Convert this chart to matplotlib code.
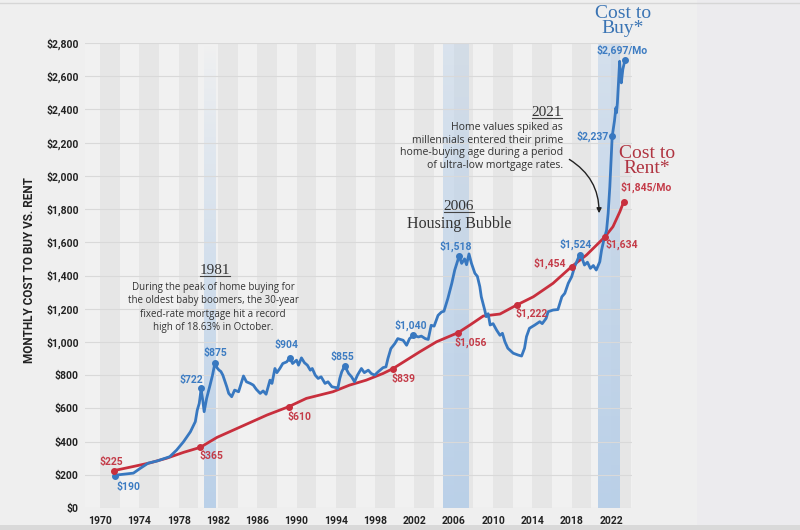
import matplotlib
matplotlib.use("Agg")
import matplotlib.pyplot as plt
import numpy as np
from matplotlib.patches import FancyArrowPatch, Rectangle
from matplotlib.lines import Line2D

# ---------------- data ----------------
buy_years = [1971.5, 1971.9, 1973.4, 1974.1, 1974.9, 1975.8, 1976.3, 1977.1, 1977.8, 1978.5,
             1979.2, 1979.7, 1979.9, 1980.1, 1980.3, 1980.45, 1980.6, 1980.85, 1981.2, 1981.45,
             1981.7, 1981.9, 1982.1, 1982.3, 1982.5, 1982.9, 1983.1, 1983.4, 1983.7, 1984.1,
             1984.6, 1984.9, 1985.3, 1985.6, 1985.9, 1986.3, 1986.6, 1986.9, 1987.3, 1987.5,
             1987.8, 1988.0, 1988.3, 1988.6, 1989.0, 1989.3, 1989.6, 1990.0, 1990.2, 1990.5,
             1990.8, 1991.1, 1991.4, 1991.6, 1991.9, 1992.2, 1992.5, 1992.9, 1993.2, 1993.6,
             1994.0, 1994.2, 1994.4, 1994.6, 1994.9, 1995.3, 1995.6, 1995.9, 1996.2, 1996.6,
             1996.9, 1997.3, 1997.6, 1997.95, 1998.3, 1998.8, 1999.1, 1999.3, 1999.6, 2000.0,
             2000.3, 2000.85, 2001.2, 2001.5, 2001.9, 2002.4, 2002.7, 2003.1, 2003.4, 2003.7,
             2004.0, 2004.4, 2004.75, 2005.0, 2005.4, 2005.8, 2006.1, 2006.55, 2006.8, 2007.1,
             2007.3, 2007.55, 2007.8, 2008.15, 2008.4, 2008.65, 2008.8, 2009.15, 2009.3, 2009.5,
             2009.7, 2010.0, 2010.35, 2010.7, 2010.95, 2011.2, 2011.5, 2012.05, 2012.55, 2012.9,
             2013.2, 2013.4, 2013.7, 2014.25, 2014.75, 2015.0, 2015.4, 2015.6, 2016.1, 2016.6,
             2017.0, 2017.3, 2017.65, 2018.0, 2018.3, 2018.8, 2019.0, 2019.3, 2019.6, 2019.9,
             2020.2, 2020.5, 2020.86, 2021.04, 2021.27, 2021.55, 2021.71, 2021.88, 2022.12, 2022.35,
             2022.5, 2022.56, 2022.65, 2022.8, 2022.88, 2022.95, 2023.05, 2023.2, 2023.41]
buy_values = [190, 200, 210, 239, 270, 283, 293, 309, 349, 399,
              459, 520, 590, 630, 722, 650, 580, 660, 740, 800,
              875, 845, 831, 822, 800, 730, 690, 670, 710, 700,
              795, 760, 750, 740, 715, 690, 705, 685, 770, 750,
              840, 815, 840, 870, 880, 904, 870, 890, 860, 904,
              875, 860, 830, 840, 800, 780, 790, 750, 760, 730,
              725, 720, 780, 820, 855, 810, 790, 760, 800, 840,
              815, 830, 810, 800, 820, 845, 850, 900, 960, 990,
              1020, 1010, 980, 1020, 1040, 1030, 1035, 1020, 1015, 1100,
              1095, 1160, 1180, 1185, 1262, 1353, 1433, 1518, 1473, 1500,
              1465, 1530, 1473, 1413, 1395, 1333, 1272, 1192, 1152, 1170,
              1102, 1110, 1072, 1040, 1052, 1002, 962, 932, 921, 915,
              962, 1032, 1082, 1102, 1122, 1110, 1142, 1182, 1192, 1195,
              1272, 1293, 1353, 1393, 1453, 1524, 1513, 1463, 1480, 1443,
              1460, 1433, 1483, 1553, 1613, 1673, 1774, 1935, 2237, 2330,
              2410, 2380, 2440, 2600, 2690, 2620, 2560, 2640, 2697]

rent_years = [1971.4, 1973.4, 1975.1, 1976.8, 1978.5, 1980.2, 1981.9, 1983.6, 1985.3, 1987.0,
              1989.2, 1991.0, 1993.7, 1995.4, 1997.1, 1998.8, 1999.8, 2002.55, 2004.25, 2006.45,
              2007.65, 2009.0, 2010.7, 2012.4, 2014.1, 2016.1, 2018.0, 2019.5, 2021.4, 2022.2,
              2022.9, 2023.3]
rent_values = [225, 250, 272, 300, 335, 365, 425, 470, 515, 560,
               610, 660, 700, 740, 770, 810, 839, 941, 1001, 1056,
               1102, 1156, 1168, 1222, 1272, 1353, 1454, 1523, 1634, 1694,
               1784, 1845]

buy_marked_years = [1971.5, 1980.3, 1981.7, 1989.3, 1994.9, 2001.9, 2006.55, 2018.8, 2022.12, 2023.41]
rent_marked_years = [1971.4, 1980.2, 1989.2, 1999.8, 2006.45, 2012.4, 2018.0, 2021.4, 2023.3]

x_ticks = list(range(1970, 2023, 4))
y_ticks = list(range(0, 2801, 200))
y_tick_labels = [f"${v:,}" for v in y_ticks]
highlight_ranges = [(1980.6, 1981.8), (2004.9, 2007.5), (2020.7, 2022.9)]

y_axis_title = "MONTHLY COST TO BUY VS. RENT"
note_1981_title = "1981"
note_1981_body = ("During the peak of home buying for\nthe oldest baby boomers, the 30-year\n"
                  "fixed-rate mortgage hit a record\nhigh of 18.63% in October.")
note_2006_title = "2006"
note_2006_body = "Housing Bubble"
note_2021_title = "2021"
note_2021_body = ("Home values spiked as\nmillennials entered their prime\n"
                  "home-buying age during a period\nof ultra-low mortgage rates.")
buy_title = "Cost to\nBuy*"
rent_title = "Cost to\nRent*"

# ---------------- styles / layout ----------------
W, H = 800, 530
BLUE = "#3878c0"
BLUE_TXT = "#3d7cc2"
RED = "#c82f3d"
RED_TXT = "#c43c49"
SANS = ["Roboto", "DejaVu Sans"]
BODY = ["Open Sans", "DejaVu Sans"]
SERIF = ["Liberation Serif", "DejaVu Serif"]
band_top_alpha = [0.0, 0.35, 0.45]

# pixel offsets of value labels (dx, dy; y up)
buy_offsets = [(14, -10), (-10, 8), (0, 10), (-3, 13), (-2, 9), (-3, 10), (-3, 10), (-4, 11), (-20, 0), (-3, 10)]
rent_offsets = [(-2, 9), (11, -9), (11, -10), (11, -10), (13, -10), (15, -8), (-22, 3), (17, -8), (22, 14)]

plt.rcParams["font.family"] = SANS
fig = plt.figure(figsize=(W / 100, H / 100), dpi=100, facecolor="#efefef")
fig.patches.append(Rectangle((697 / W, 0), 1 - 697 / W, 1, transform=fig.transFigure,
                             facecolor="#ecebee", edgecolor="none", zorder=-5))
fig.patches.append(Rectangle((0, 0), 1, 5 / H, transform=fig.transFigure,
                             facecolor="#d9d9d9", edgecolor="none", zorder=-4))
fig.lines.append(Line2D([0, 1], [1 - 3 / H, 1 - 3 / H], transform=fig.transFigure,
                        color="#d6d6d6", lw=1))

ax = fig.add_axes([85 / W, 1 - 508 / H, (632 - 85) / W, (508 - 43) / H])
ax.set_facecolor("#f1f1f1")
xl = 1970 - 15 / 9.827
xr = 1970 + 532 / 9.827

for x0 in x_ticks:
    ax.axvspan(x0, x0 + 2, color="#e6e6e6", lw=0, zorder=0)

for (a, b), ta in zip(highlight_ranges, band_top_alpha):
    grad = np.zeros((100, 1, 4))
    grad[..., 0] = 0.73
    grad[..., 1] = 0.816
    grad[..., 2] = 0.91
    grad[:, 0, 3] = np.linspace(ta, 1.0, 100) ** 0.8
    ax.imshow(grad, extent=(a, b, 0, 2800), aspect="auto", origin="upper", zorder=0.5,
              interpolation="bilinear")

ax.set_xlim(xl, xr)
ax.set_ylim(0, 2800)
ax.set_yticks(y_ticks)
ax.set_yticklabels(y_tick_labels)
ax.set_xticks(x_ticks)
ax.set_xticklabels([str(t) for t in x_ticks])
ax.grid(axis="y", color="#d9d9d9", lw=0.8, zorder=1)
ax.grid(axis="x", visible=False)
ax.set_axisbelow(False)
for s in ax.spines.values():
    s.set_visible(False)
ax.tick_params(axis="both", length=0, labelsize=7.5, colors="#222222")
ax.tick_params(axis="y", pad=4.5)
ax.tick_params(axis="x", pad=6)
for lab in ax.get_xticklabels() + ax.get_yticklabels():
    lab.set_fontweight("bold")

fig.text(30 / W, 1 - 270 / H, y_axis_title, rotation=90, ha="center", va="center",
         fontsize=8.5, fontweight="bold", color="#222222", family=SANS)

ax.plot(rent_years, rent_values, color=RED, lw=2, zorder=3, solid_capstyle="round")
ax.plot(buy_years, buy_values, color=BLUE, lw=2, zorder=4, solid_joinstyle="round")

by = dict(zip(buy_years, buy_values))
ry = dict(zip(rent_years, rent_values))
for i, yr in enumerate(buy_marked_years):
    v = by[yr]
    ax.plot([yr], [v], "o", color=BLUE, ms=4, zorder=5)
    txt = f"${v:,}" + ("/Mo" if i == len(buy_marked_years) - 1 else "")
    ax.annotate(txt, (yr, v), xytext=buy_offsets[i], textcoords="offset pixels",
                ha="center", va="center", fontsize=7.5, fontweight="bold", color=BLUE_TXT,
                family=SANS, zorder=6)
for i, yr in enumerate(rent_marked_years):
    v = ry[yr]
    ax.plot([yr], [v], "o", color=RED, ms=4, zorder=5)
    txt = f"${v:,}" + ("/Mo" if i == len(rent_marked_years) - 1 else "")
    ax.annotate(txt, (yr, v), xytext=rent_offsets[i], textcoords="offset pixels",
                ha="center", va="center", fontsize=7.5, fontweight="bold", color=RED_TXT,
                family=SANS, zorder=6)

def fx(px):
    return px / W

def fy(py):
    return 1 - py / H

titles = []
titles.append(fig.text(fx(215), fy(270), note_1981_title, ha="center", va="center",
                       fontsize=11, family=SERIF, color="#333333"))
fig.text(fx(213), fy(282), note_1981_body, ha="center", va="top", ma="center",
         fontsize=7, family=BODY, color="#333333", linespacing=1.3)
titles.append(fig.text(fx(459), fy(206), note_2006_title, ha="center", va="center",
                       fontsize=11, family=SERIF, color="#333333"))
fig.text(fx(459), fy(224), note_2006_body, ha="center", va="center",
         fontsize=11.5, family=SERIF, color="#333333")
titles.append(fig.text(fx(562), fy(112), note_2021_title, ha="right", va="center",
                       fontsize=11, family=SERIF, color="#333333"))
fig.text(fx(563), fy(122), note_2021_body, ha="right", va="top", ma="right",
         fontsize=7.6, family=BODY, color="#333333", linespacing=1.2)

fig.text(fx(623), fy(21), buy_title, ha="center", va="center", fontsize=14,
         family=SERIF, color="#3a74b4", linespacing=0.85)
fig.text(fx(647), fy(161), rent_title, ha="center", va="center", fontsize=14,
         family=SERIF, color="#b03441", linespacing=0.85)

arrow = FancyArrowPatch((fx(567), fy(158)), (fx(599), fy(216)), transform=fig.transFigure,
                        connectionstyle="arc3,rad=-0.3", arrowstyle="-|>",
                        mutation_scale=7, lw=1, color="#222222")
fig.patches.append(arrow)

fig.canvas.draw()
r = fig.canvas.get_renderer()
for t in titles:
    bb = t.get_window_extent(r)
    yb = bb.y0 + 1
    fig.lines.append(Line2D([bb.x0 / W, bb.x1 / W], [yb / H, yb / H], transform=fig.transFigure,
                            color="#444444", lw=0.8))

fig.savefig("out.png", dpi=100, facecolor=fig.get_facecolor())
